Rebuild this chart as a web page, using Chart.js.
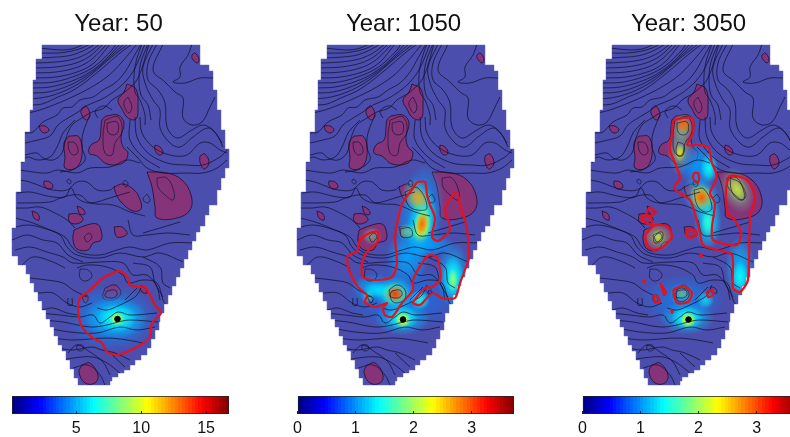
<!DOCTYPE html>
<html>
<head>
<meta charset="utf-8">
<script src="https://cdn.jsdelivr.net/npm/chart.js@4"></script>
<style>
html, body { margin: 0; background: #fff; overflow: hidden; }
#page { position: relative; width: 790px; height: 437px; overflow: hidden; }
canvas { position: absolute; }
</style>
</head>
<body>
<div id="page"></div>
<script>
var years = [50, 1050, 3050];
var barRanges = [[0.05, 16.77], [0, 3.73], [0, 3.73]];
var barTicks = [[5, 10, 15], [0, 1, 2, 3], [0, 1, 2, 3]];

// map outline, drawn stepped
var outline = [[42,45],[200,45],[200,65],[209,71],[213,90],[217,110],[221,130],[225,149],[229,168],[225,178],[221,190],[217,205],[209,215],[205,226],[200,232],[196,241],[192,250],[188,259],[184,268],[180,277],[176,286],[172,295],[168,304],[164,313],[160,322],[159,330],[155,339],[151,348],[147,355],[141,360],[135,365],[130,370],[124,373],[118,377],[112,381],[110,385],[81,385],[78,378],[74,369],[70,360],[66,351],[62,345],[58,336],[54,327],[50,319],[46,310],[42,301],[38,292],[34,283],[30,274],[26,265],[18,256],[12,247],[12,228],[16,192],[21,162],[25,132],[30,110],[33,80],[36,59],[42,45]];

// water table contours
var contours = [
 [[40,48],[60,50],[72,49],[80,46],[84,44]],
 [[40,53],[58,53],[72,51],[82,48],[90,44]],
 [[37,58],[58,57],[72,55],[85,50],[95,44]],
 [[36,63],[56,62],[74,59],[88,53],[100,44]],
 [[35,68],[56,67],[76,63],[90,56],[103,44]],
 [[33,73],[56,72],[78,67],[92,59],[107,44]],
 [[33,78],[56,77],[80,71],[95,62],[110,44]],
 [[33,83],[54,82],[78,75],[95,66],[112,50],[116,44]],
 [[32,88],[50,87],[72,81],[90,72],[105,60],[120,44]],
 [[31,93],[48,92],[68,86],[85,77],[100,66],[113,54],[124,44]],
 [[30,99],[46,97],[62,92],[78,84],[92,74],[108,60],[128,44]],
 [[30,105],[42,104],[58,97],[72,91],[88,80],[105,66],[120,53],[132,44]],
 [[28,113],[40,110],[56,104],[70,98],[90,88],[108,76],[122,62],[137,44]],
 [[25,133],[33,132],[43,122],[57,115],[63,108],[72,107],[80,100],[93,97],[103,90],[115,83],[125,72],[133,58],[141,44]],
 [[25,143],[38,140],[50,136],[58,125],[68,118],[78,112],[88,105],[100,100],[112,93],[125,82],[135,68],[145,44]],
 [[25,155],[37,153],[43,158],[53,160],[62,153],[66,138],[72,125],[82,118],[92,112],[104,108],[112,100],[125,92],[138,78],[149,44]],
 [[90,115],[83,133],[82,147],[85,160],[72,170],[60,172]],
 [[75,120],[67,128],[63,133],[57,147],[50,157],[38,160],[27,157],[22,163]],
 [[20,170],[33,172],[47,173],[58,170],[77,173],[90,168],[110,167],[127,160],[140,163]],
 [[20,180],[30,182],[43,187],[53,190],[67,190],[77,182],[87,182],[97,190],[110,190],[115,186]],
 [[17,193],[30,192],[43,195],[53,197],[65,197],[71,188],[77,198],[90,203],[113,197],[130,192]],
 [[15,208],[27,208],[40,207],[53,212],[67,220],[75,228]],
 [[17,203],[50,202],[63,197],[80,195],[90,203],[113,205],[130,212],[145,216]],
 [[15,218],[23,220],[33,223],[50,230],[65,237],[72,247],[80,253],[100,255],[117,250],[130,247],[147,250],[170,243],[195,243]],
 [[12,228],[27,225],[43,228],[60,235],[67,247],[77,255],[100,258],[120,253],[143,257],[160,253],[183,262]],
 [[12,240],[27,235],[43,240],[57,243],[68,255],[83,262]],
 [[15,250],[30,247],[47,252],[63,257],[73,263],[100,262],[123,263],[133,275],[147,275],[157,287],[160,300]],
 [[20,267],[33,257],[53,262],[65,268]],
 [[30,278],[47,280],[63,283],[73,290],[87,297]],
 [[38,293],[53,293],[67,303],[80,307],[92,303]],
 [[42,310],[53,308],[67,313],[78,315]],
 [[40,313],[60,315],[80,317],[93,315],[100,323],[110,317],[118,312],[130,315],[157,313]],
 [[43,320],[63,322],[90,327],[107,325],[118,322],[130,320],[158,322]],
 [[47,328],[70,332],[97,333],[120,327],[137,330],[155,327]],
 [[52,338],[73,340],[107,338],[127,340],[143,343]],
 [[57,348],[73,350],[92,347],[102,350],[115,353],[130,360]],
 [[68,353],[77,345],[90,352],[103,362],[110,375]],
 [[110,353],[125,367]],
 [[62,360],[73,358],[93,357],[107,363],[120,373]],
 [[73,368],[88,365],[100,375],[105,385]],
 [[77,268],[87,265],[107,267],[123,275],[128,283],[143,280],[157,283],[163,300],[166,305]],
 [[133,263],[150,267],[155,283],[163,297]],
 [[143,257],[160,267],[163,283],[170,288]],
 [[97,308],[107,310],[120,305],[130,300],[137,295],[142,285]],
 [[125,300],[132,293],[138,287]],
 [[153,44],[143,67],[145,83],[153,100],[160,110],[160,128],[170,143],[180,147],[193,137],[208,128],[217,135],[223,147]],
 [[157,44],[148,63],[148,80],[158,90],[165,103],[167,127],[177,138],[192,130],[203,125],[213,130],[222,143]],
 [[163,44],[153,70],[165,82],[175,92],[183,98],[183,118],[192,125],[202,122],[210,107],[215,97]],
 [[192,44],[188,55],[180,67],[180,77],[173,82],[185,83],[200,78],[213,78]],
 [[130,120],[130,140],[143,157],[160,168]],
 [[135,117],[137,137],[148,153],[167,163],[187,165],[203,165],[220,157],[227,150]],
 [[140,117],[142,133],[153,147],[170,155],[187,155],[200,143],[210,143],[220,150],[227,153]],
 [[142,44],[137,58],[134,75],[135,92],[140,100],[145,115],[145,125]],
 [[148,44],[141,62],[139,78],[141,95],[148,105],[151,120]],
 [[127,147],[137,157],[147,168],[163,173],[187,173],[203,173],[217,168],[227,160]],
 [[180,222],[160,228],[143,233]],
 [[128,220],[133,235],[147,235],[168,233],[190,235]],
 [[68,298],[68,305],[72,305],[72,298]],
 [[98,118],[95,112],[98,108],[105,106],[112,110]]
];

// purple patches and their outlines
var blobs = [
 [[192,55],[195,53],[199,59],[197,63],[192,58]],
 [[127,84],[136,89],[138,107],[136,119],[128,118],[122,109],[118,100],[124,92]],
 [[82,108],[86,106],[90,115],[86,120],[81,113]],
 [[106,116],[118,115],[124,123],[121,137],[123,147],[128,153],[123,163],[107,164],[97,156],[89,153],[91,145],[99,140],[101,128],[102,120]],
 [[39,126],[45,126],[49,130],[45,133],[41,131]],
 [[69,136],[79,137],[82,155],[76,168],[65,168],[65,157],[64,143]],
 [[155,145],[160,147],[163,153],[159,155],[155,150]],
 [[200,156],[205,154],[209,163],[204,169],[200,162]],
 [[147,172],[167,173],[182,180],[191,195],[190,210],[177,218],[157,218],[155,207],[152,187]],
 [[114,187],[123,184],[133,189],[139,197],[141,209],[133,211],[122,203],[116,194]],
 [[44,181],[50,182],[53,187],[48,189],[44,185]],
 [[77,206],[83,209],[85,214],[80,214]],
 [[32,211],[38,214],[39,220],[34,218]],
 [[69,214],[78,214],[83,220],[75,224],[69,221]],
 [[74,230],[87,225],[97,224],[101,230],[101,240],[93,243],[88,250],[77,249],[73,240]],
 [[114,227],[122,227],[127,234],[117,237]],
 [[105,288],[115,285],[121,293],[113,300],[103,298]],
 [[140,287],[145,288],[147,293],[142,292]],
 [[82,297],[87,295],[88,300],[85,303]],
 [[82,365],[90,363],[98,375],[95,383],[85,383],[79,372]]
];

// closed contours that are not filled
var loops = [
 [[128,97],[132,107],[129,113],[125,108],[124,102]],
 [[107,123],[117,122],[118,132],[113,135],[108,132]],
 [[105,120],[118,117],[122,132],[115,143],[112,155],[105,153],[103,137]],
 [[68,142],[75,143],[78,152],[73,155],[69,150]],
 [[157,178],[167,178],[174,192],[173,200],[165,195],[158,187]],
 [[68,179],[71,181],[70,184],[67,182]],
 [[125,180],[128,183],[126,187],[123,183]],
 [[147,194],[150,200],[147,203],[143,199]],
 [[84,237],[89,233],[92,237],[87,242]],
 [[107,291],[115,290],[117,295],[112,298],[105,296]],
 [[80,269],[88,270],[92,276],[86,281],[80,278]],
 [[77,345],[82,345],[84,349],[80,351],[77,349]]
];

var plumes = [
 [
  [[117,271],[122,272],[128,278],[130,285],[138,287],[145,287],[150,295],[155,305],[161,313],[152,323],[150,337],[135,348],[117,355],[107,352],[102,343],[93,338],[82,327],[78,310],[80,298],[90,290],[103,278],[117,271]]
 ],
 [
  [[132,182],[140,182],[142,195],[145,205],[150,218],[147,237],[153,241],[163,233],[165,227],[160,210],[163,202],[172,192],[175,205],[180,220],[183,237],[184,258],[180,270],[175,283],[170,298],[157,298],[148,293],[142,298],[135,305],[128,303],[132,297],[140,288],[147,287],[155,280],[155,270],[152,258],[145,255],[137,263],[128,280],[128,290],[117,303],[107,317],[100,315],[98,308],[102,303],[90,307],[80,302],[82,295],[73,287],[63,267],[63,255],[72,252],[75,240],[85,233],[93,232],[92,243],[82,252],[77,263],[78,277],[90,280],[107,277],[112,263],[110,237],[115,210],[118,202],[128,188],[132,182]]
 ],
 [
  [[103,120],[122,118],[123,133],[117,145],[127,145],[138,147],[142,163],[147,177],[140,193],[145,203],[142,227],[143,240],[167,245],[171,232],[163,218],[158,215],[156,190],[160,176],[177,180],[185,197],[180,217],[178,280],[170,292],[163,288],[162,255],[147,250],[133,245],[130,233],[126,217],[120,200],[113,195],[104,188],[110,178],[105,163],[100,150],[102,133],[103,120]],
  [[124,173],[128,173],[129,180],[127,183],[123,178],[124,173]],
  [[75,235],[85,225],[98,227],[102,237],[93,247],[83,250],[77,245],[75,235]],
  [[117,230],[125,230],[127,235],[120,238],[116,235],[117,230]],
  [[80,207],[86,212],[80,216],[76,214],[80,207]],
  [[70,216],[80,216],[82,225],[75,222],[70,216]],
  [[103,290],[113,286],[122,293],[118,302],[107,303],[103,290]],
  [[83,295],[88,297],[90,302],[85,302],[83,295]],
  [[137,292],[142,290],[143,295],[138,297],[137,292]],
  [[90,283],[93,287],[96,293],[94,295],[92,288],[90,283]],
  [[130,254],[132,255],[131,257],[130,254]],
  [[101,310],[103,311],[102,313],[101,310]],
  [[73,280],[75,281],[74,282],[73,280]]
 ]
];

// concentration isolines that only show in the later years
var isolines = [
 [],
 [
  [[120,192],[133,188],[142,208],[132,210],[123,205]],
  [[115,229],[125,228],[127,236],[117,237]],
  [[104,290],[112,285],[120,290],[119,300],[108,302]],
  [[144,290],[147,293],[143,294]],
  [[82,296],[88,298],[86,303]]
 ],
 [
  [[108,142],[114,145],[113,155],[108,156],[106,150]],
  [[124,190],[134,189],[142,208],[135,212],[127,205]],
  [[160,178],[170,183],[176,196],[170,200],[162,192]],
  [[83,235],[92,232],[92,240],[85,243]],
  [[106,290],[113,288],[119,293],[116,300],[108,301]]
 ]
];

// x, y, rx, ry, angle, colour level on the jet scale, strength
var glows = [
 [
  [112,318,46,34,0,0.27,0.85],
  [116,318,32,21,0,0.33,0.95],
  [117,318,20,14,0,0.39,1],
  [117,319,8,7,0,0.56,1],
  [117,319,5,5,0,0.64,1]
 ],
 [
  [118,298,60,34,0,0.25,0.7],
  [88,288,22,14,0,0.3,0.8],
  [135,215,24,52,8,0.28,0.95],
  [137,225,15,34,8,0.38,1],
  [137,226,9,20,8,0.62,1],
  [137,224,6,12,8,0.78,1],
  [133,198,15,20,-25,0.5,0.6],
  [133,198,9,11,-25,0.72,0.8],
  [122,232,10,9,0,0.5,0.6],
  [122,258,22,26,0,0.29,0.95],
  [146,245,24,12,0,0.28,0.95],
  [168,275,17,34,0,0.31,0.95],
  [168,278,11,22,0,0.38,1],
  [168,280,5,12,0,0.54,0.9],
  [135,300,10,10,30,0.4,1],
  [92,290,14,8,0,0.36,0.8],
  [110,294,20,18,0,0.38,0.85],
  [110,294,14,12,0,0.56,0.6],
  [110,294,9,8,0,0.83,1],
  [87,236,10,9,0,0.48,0.5],
  [83,297,7,7,0,0.48,0.5],
  [117,318,28,18,0,0.32,0.9],
  [117,318,16,12,0,0.39,1],
  [118,320,8,8,0,0.62,1]
 ],
 [
  [113,127,12,14,0,0.5,0.6],
  [113,125,7,8,0,0.78,1],
  [110,150,13,26,0,0.46,0.55],
  [110,153,6,9,0,0.64,0.8],
  [128,165,20,24,0,0.28,0.95],
  [139,168,9,15,0,0.38,1],
  [132,198,18,24,-25,0.34,0.8],
  [132,198,12,15,-25,0.62,0.9],
  [132,198,8,10,-25,0.8,1],
  [138,222,14,28,0,0.34,1],
  [138,222,7,15,0,0.42,1],
  [167,190,16,24,-25,0.48,0.55],
  [167,189,9,15,-25,0.6,0.7],
  [170,268,15,32,0,0.31,0.95],
  [170,277,9,16,0,0.38,1],
  [88,237,15,14,0,0.5,0.55],
  [88,237,7,7,0,0.58,0.7],
  [112,295,13,12,0,0.52,0.6],
  [112,295,8,7,0,0.6,0.7],
  [135,300,9,9,30,0.4,1],
  [112,300,44,26,0,0.26,0.7],
  [117,318,28,17,0,0.32,0.9],
  [117,318,16,12,0,0.39,1],
  [118,320,8,8,0,0.62,1]
 ]
];

var wellX = [117.5, 118, 118.5];
var wellY = [319, 319.5, 319.5];

function jet(v) {
    var c = function(o) { return Math.round(255 * Math.max(0, Math.min(1, 1.5 - Math.abs(4 * v - o)))); };
    return c(3) + ',' + c(2) + ',' + c(1);
}

function pts(list) {
    return list.map(function(p) { return { x: p[0], y: p[1] }; });
}

// soft elliptical spot used as a point style
function glowSprite(g) {
    var cv = document.createElement('canvas');
    cv.width = g[2] * 2;
    cv.height = g[3] * 2;
    var c = cv.getContext('2d');
    c.translate(g[2], g[3]);
    c.scale(g[2], g[3]);
    var grad = c.createRadialGradient(0, 0, 0, 0, 0, 1);
    var rgb = jet(g[5]);
    grad.addColorStop(0, 'rgba(' + rgb + ',' + 0.95 * g[6] + ')');
    grad.addColorStop(0.5, 'rgba(' + rgb + ',' + 0.6 * g[6] + ')');
    grad.addColorStop(1, 'rgba(' + rgb + ',0)');
    c.fillStyle = grad;
    c.fillRect(-1, -1, 2, 2);
    return cv;
}

function addCanvas(left, top, w, h) {
    var cv = document.createElement('canvas');
    cv.width = w;
    cv.height = h;
    cv.style.left = left + 'px';
    cv.style.top = top + 'px';
    document.getElementById('page').appendChild(cv);
    return cv;
}

// glows and contours stay inside the stepped map outline
var mapClip = {
    id: 'mapClip',
    beforeDatasetDraw: function(chart, args) {
        if (!chart.data.datasets[args.index].inMap) return;
        var c = chart.ctx, sx = chart.scales.x, sy = chart.scales.y;
        c.save();
        c.beginPath();
        outline.forEach(function(p, k) {
            var px = sx.getPixelForValue(p[0]), py = sy.getPixelForValue(p[1]);
            if (k === 0) {
                c.moveTo(px, py);
            } else {
                c.lineTo(px, sy.getPixelForValue(outline[k - 1][1]));
                c.lineTo(px, py);
            }
        });
        c.closePath();
        c.clip();
    },
    afterDatasetDraw: function(chart, args) {
        if (chart.data.datasets[args.index].inMap) chart.ctx.restore();
    }
};

function drawPanel(i) {
    var sets = [];
    sets.push({ data: pts(outline), showLine: true, stepped: true, fill: 'shape', backgroundColor: 'rgb(75,78,172)', borderColor: 'rgb(95,98,190)', borderWidth: 0.5, pointRadius: 0 });
    blobs.forEach(function(b) {
        sets.push({ data: pts(b.concat([b[0]])), showLine: true, fill: 'shape', tension: 0.4, backgroundColor: 'rgb(133,52,122)', borderColor: 'rgba(30,10,40,.85)', borderWidth: 0.9, pointRadius: 0 });
    });
    sets.push({
        inMap: true,
        data: glows[i].map(function(g) { return { x: g[0], y: g[1], g: g }; }),
        pointStyle: function(ctx) { return glowSprite(ctx.raw.g); },
        rotation: function(ctx) { return ctx.raw.g[4]; }
    });
    contours.forEach(function(c) {
        sets.push({ inMap: true, data: pts(c), showLine: true, tension: 0.35, borderColor: 'rgba(15,15,45,.8)', borderWidth: 0.9, pointRadius: 0 });
    });
    loops.concat(isolines[i]).forEach(function(c) {
        sets.push({ data: pts(c.concat([c[0]])), showLine: true, tension: 0.4, borderColor: 'rgba(15,15,45,.7)', borderWidth: 0.9, pointRadius: 0 });
    });
    plumes[i].forEach(function(p) {
        sets.push({ data: pts(p), showLine: true, tension: 0.25, borderColor: '#e8101e', borderWidth: 2.2, pointRadius: 0 });
    });
    sets.push({ data: [{ x: wellX[i], y: wellY[i] }], pointStyle: 'circle', pointRadius: 2.8, backgroundColor: '#000', borderColor: '#000' });
    // chart.js paints the first dataset last
    sets.reverse();

    new Chart(addCanvas(285 * i, 0, 237, 437), {
        type: 'scatter',
        data: { datasets: sets },
        plugins: [mapClip],
        options: {
            responsive: false,
            animation: false,
            devicePixelRatio: 1,
            layout: { autoPadding: false, padding: { bottom: 47 } },
            plugins: {
                legend: { display: false },
                tooltip: { enabled: false },
                title: {
                    display: true,
                    text: 'Year: ' + years[i],
                    color: '#111',
                    font: { family: 'Liberation Sans', size: 24, weight: 'normal', lineHeight: 1.15 },
                    padding: { top: 11, bottom: 5.4 }
                }
            },
            scales: {
                x: { display: false, min: 0, max: 237 },
                y: { display: false, min: 44, max: 390, reverse: true }
            }
        }
    });
}

function barFill(ctx) {
    var area = ctx.chart.chartArea;
    if (!area) return '#000';
    var grad = ctx.chart.ctx.createLinearGradient(area.left, 0, area.right, 0);
    for (var k = 0; k < 64; k++) {
        var col = 'rgb(' + jet((k + 0.5) / 64) + ')';
        grad.addColorStop(k / 64, col);
        grad.addColorStop((k + 1) / 64, col);
    }
    return grad;
}

function drawBar(i) {
    new Chart(addCanvas(285 * i, 390, 237, 47), {
        type: 'bar',
        data: {
            labels: [''],
            datasets: [{ data: [barRanges[i]], backgroundColor: barFill, borderColor: '#222', borderWidth: 1, borderSkipped: false, barPercentage: 1, categoryPercentage: 1 }]
        },
        options: {
            indexAxis: 'y',
            responsive: false,
            animation: false,
            devicePixelRatio: 1,
            layout: { padding: { left: 12, right: 8, top: 6 } },
            plugins: { legend: { display: false }, tooltip: { enabled: false } },
            scales: {
                x: {
                    min: barRanges[i][0],
                    max: barRanges[i][1],
                    afterBuildTicks: function(s) { s.ticks = barTicks[i].map(function(v) { return { value: v }; }); },
                    afterFit: function(s) { s.height = 23; },
                    border: { display: false },
                    grid: { drawOnChartArea: false, tickLength: -3, tickColor: '#222', z: 1 },
                    ticks: { color: '#111', padding: 8, maxRotation: 0, font: { family: 'Liberation Sans', size: 16 } }
                },
                y: { display: false }
            }
        }
    });
}

for (var i = 0; i < 3; i++) {
    drawPanel(i);
    drawBar(i);
}
</script>
</body>
</html>
